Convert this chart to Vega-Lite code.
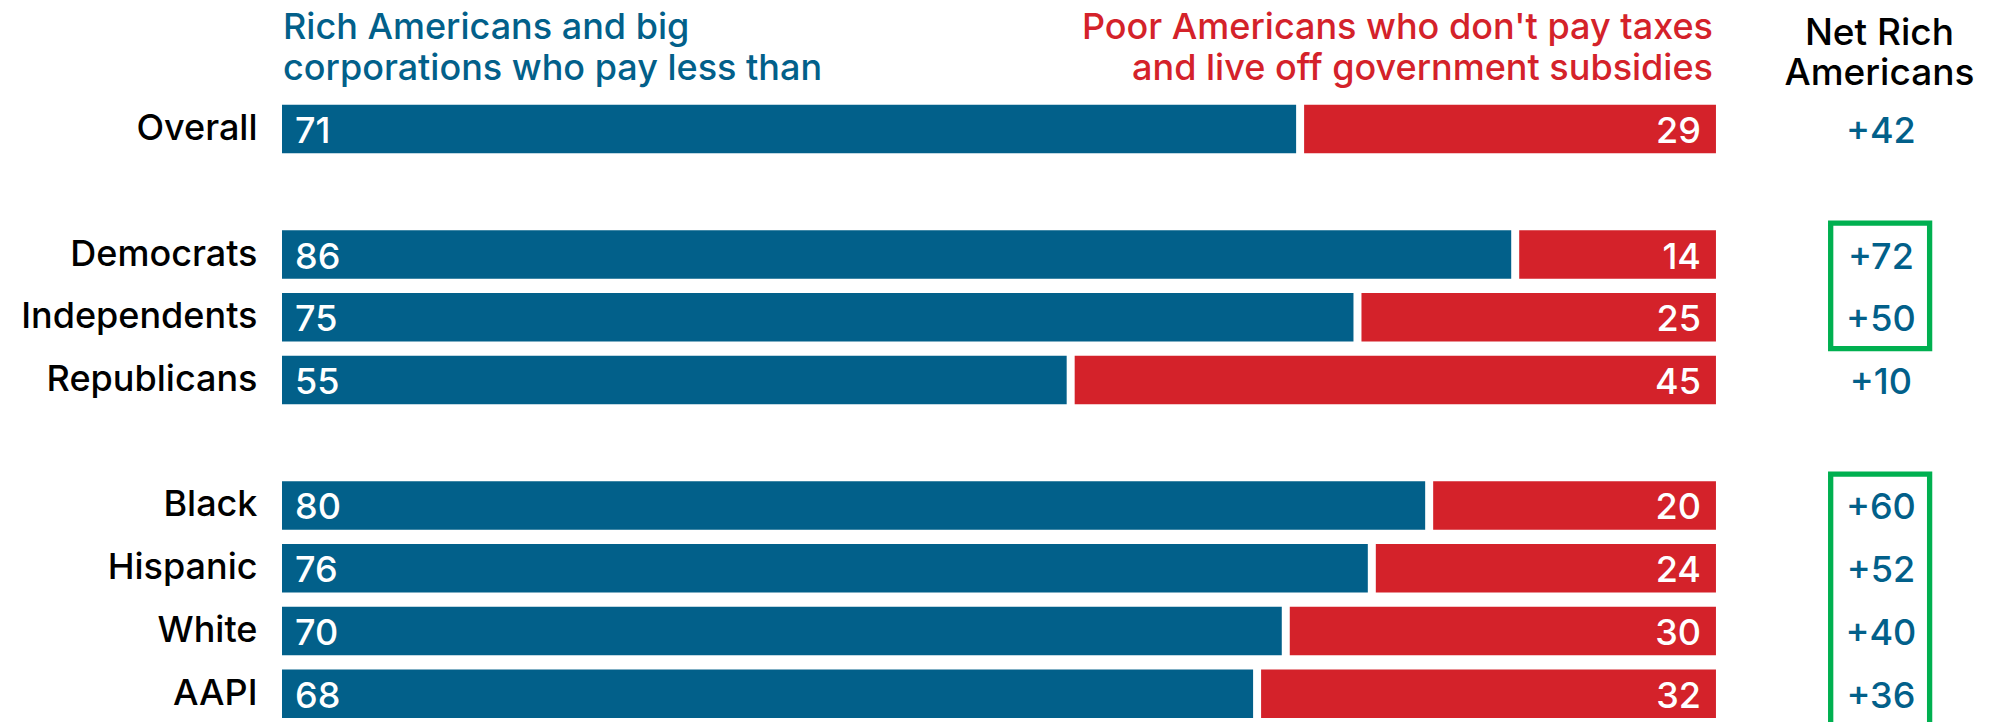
{
  "$schema": "https://vega.github.io/schema/vega-lite/v6.json",
  "width": 1711,
  "height": 690,
  "autosize": {"type": "none"},
  "padding": {"left": 282, "top": 35, "right": 0, "bottom": 0},
  "background": "white",
  "config": {"view": {"stroke": null}, "font": "Inter", "text": {"font": "Inter"}},
  "data": {
    "values": [
      {"group": "Overall", "rich": 71, "poor": 29, "net": 42},
      {"group": "Democrats", "rich": 86, "poor": 14, "net": 72},
      {"group": "Independents", "rich": 75, "poor": 25, "net": 50},
      {"group": "Republicans", "rich": 55, "poor": 45, "net": 10},
      {"group": "Black", "rich": 80, "poor": 20, "net": 60},
      {"group": "Hispanic", "rich": 76, "poor": 24, "net": 52},
      {"group": "White", "rich": 70, "poor": 30, "net": 40},
      {"group": "AAPI", "rich": 68, "poor": 32, "net": 36}
    ]
  },
  "layer": [
    {
      "transform": [{"fold": ["rich", "poor"], "as": ["side", "value"]}],
      "mark": {"type": "bar", "height": {"band": 0.773}},
      "encoding": {
        "y": {
          "field": "group", "type": "nominal",
          "scale": {"domain": ["   ", "Overall", " ", "Democrats", "Independents", "Republicans", "  ", "Black", "Hispanic", "White", "AAPI"], "paddingInner": 0, "paddingOuter": 0},
          "axis": {"title": null, "domain": false, "ticks": false, "tickSize": 0, "grid": false, "labelFont": "Inter", "labelFontSize": 36, "labelFontWeight": 500, "labelColor": "#000000", "labelPadding": 25, "labelLimit": 400}
        },
        "x": {
          "field": "value", "type": "quantitative", "stack": "zero",
          "scale": {"domain": [0, 119.32], "nice": false, "zero": true},
          "axis": null
        },
        "color": {"field": "side", "type": "nominal", "scale": {"domain": ["rich", "poor"], "range": ["#02608A", "#D4222A"]}, "legend": null},
        "order": {"field": "side", "sort": "descending"}
      }
    },
    {
      "mark": {"type": "tick", "color": "white", "thickness": 8, "size": 52, "opacity": 1},
      "encoding": {
        "y": {"field": "group", "type": "nominal"},
        "x": {"field": "rich", "type": "quantitative"}
      }
    },
    {
      "mark": {"type": "text", "align": "left", "baseline": "middle", "dx": 13, "dy": 3, "fontSize": 36, "fontWeight": 500, "color": "white"},
      "encoding": {
        "y": {"field": "group", "type": "nominal"},
        "x": {"datum": 0, "type": "quantitative"},
        "text": {"field": "rich", "type": "quantitative"}
      }
    },
    {
      "mark": {"type": "text", "align": "right", "baseline": "middle", "dx": -15, "dy": 3, "fontSize": 36, "fontWeight": 500, "color": "white"},
      "encoding": {
        "y": {"field": "group", "type": "nominal"},
        "x": {"datum": 100, "type": "quantitative"},
        "text": {"field": "poor", "type": "quantitative"}
      }
    },
    {
      "mark": {"type": "text", "align": "center", "baseline": "middle", "dy": 3, "fontSize": 36, "fontWeight": 500, "color": "#02608A"},
      "encoding": {
        "y": {"field": "group", "type": "nominal"},
        "x": {"datum": 111.5, "type": "quantitative"},
        "text": {"field": "net", "type": "quantitative", "format": "+d"}
      }
    },
    {
      "data": {"values": [{"s": "Democrats", "e": "Independents"}, {"s": "Black", "e": "AAPI"}]},
      "mark": {"type": "rect", "filled": false, "color": "#00B050", "strokeWidth": 5.3},
      "encoding": {
        "y": {"field": "s", "type": "nominal", "bandPosition": 0},
        "y2": {"field": "e", "bandPosition": 1},
        "x": {"datum": 108.0, "type": "quantitative"},
        "x2": {"datum": 114.9}
      }
    },
    {
      "data": {"values": [{}]},
      "mark": {"type": "text", "align": "left", "baseline": "bottom", "dx": 1, "fontSize": 36, "fontWeight": 500, "lineHeight": 41.5, "color": "#02608A", "text": ["Rich Americans and big", "corporations who pay less than"]},
      "encoding": {
        "y": {"datum": "   ", "type": "nominal", "bandPosition": 0.191},
        "x": {"datum": 0, "type": "quantitative"}
      }
    },
    {
      "data": {"values": [{}]},
      "mark": {"type": "text", "align": "right", "baseline": "bottom", "dx": -3, "fontSize": 36, "fontWeight": 500, "lineHeight": 41.5, "color": "#D4222A", "text": ["Poor Americans who don't pay taxes", "and live off government subsidies"]},
      "encoding": {
        "y": {"datum": "   ", "type": "nominal", "bandPosition": 0.191},
        "x": {"datum": 100, "type": "quantitative"}
      }
    },
    {
      "data": {"values": [{}]},
      "mark": {"type": "text", "align": "center", "baseline": "bottom", "fontSize": 37, "fontWeight": 500, "lineHeight": 40, "color": "#000000", "text": ["Net Rich", "Americans"]},
      "encoding": {
        "y": {"datum": "   ", "type": "nominal", "bandPosition": 0.287},
        "x": {"datum": 111.4, "type": "quantitative"}
      }
    }
  ]
}
